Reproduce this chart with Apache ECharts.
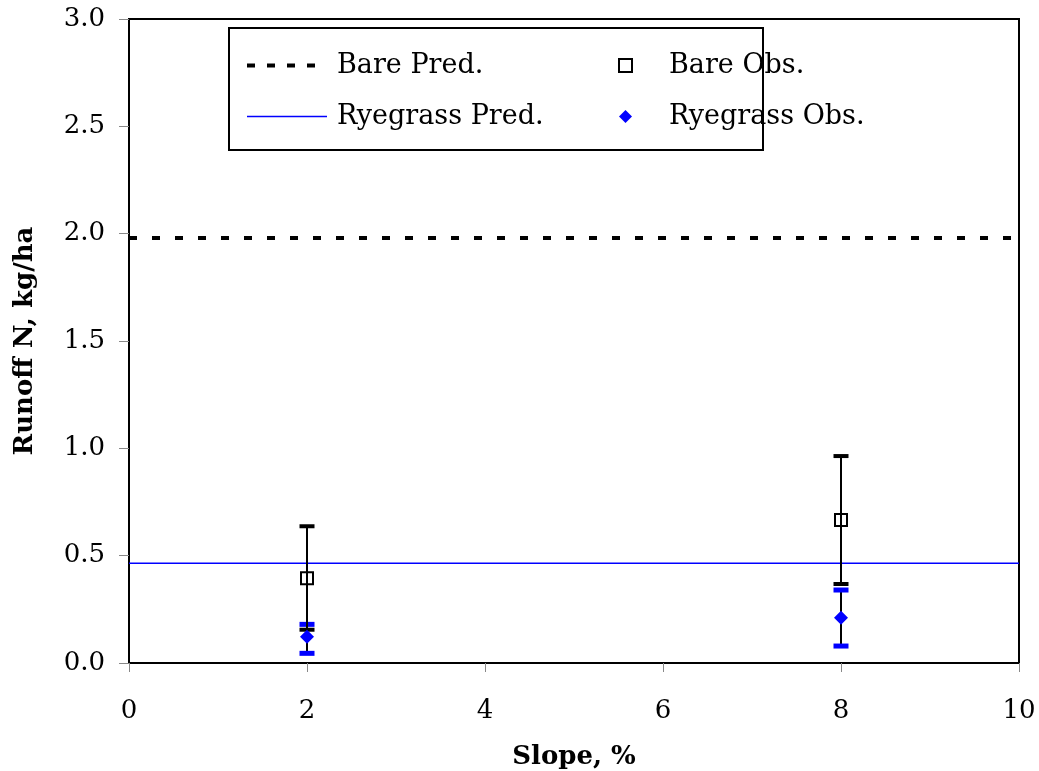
<!DOCTYPE html>
<html>
<head>
<meta charset="utf-8">
<script src="https://cdn.jsdelivr.net/npm/echarts@6/dist/echarts.min.js"></script>
<style>
  html, body { margin: 0; padding: 0; background: #fff; }
  #chart { width: 1039px; height: 771px; }
</style>
</head>
<body>
<div id="chart"></div>
<script>
// Slope (%) of each plot pair
const slopes = [2, 8];

// Observed runoff N (kg/ha) with the ends of its error bar
const bareObs = [0.395, 0.666];
const bareLow = [0.155, 0.368];
const bareHigh = [0.637, 0.964];

const ryeObs = [0.122, 0.211];
const ryeLow = [0.045, 0.079];
const ryeHigh = [0.180, 0.340];

// Model predictions (constant over slope)
const barePred = 1.98;
const ryePred = 0.465;
const xRange = [0, 10];

const FONT = 'DejaVu Serif';

function errorBars(stemColor, capColor, capH) {
  return function (params, api) {
    const x = api.value(0);
    const lo = api.coord([x, api.value(1)]);
    const hi = api.coord([x, api.value(2)]);
    const capW = 15;
    return {
      type: 'group',
      children: [
        { type: 'line', shape: { x1: lo[0], y1: lo[1], x2: hi[0], y2: hi[1] },
          style: { stroke: stemColor, lineWidth: 2 } },
        { type: 'rect', shape: { x: lo[0] - capW / 2, y: lo[1] - capH / 2, width: capW, height: capH },
          style: { fill: capColor } },
        { type: 'rect', shape: { x: hi[0] - capW / 2, y: hi[1] - capH / 2, width: capW, height: capH },
          style: { fill: capColor } }
      ]
    };
  };
}

const chart = echarts.init(document.getElementById('chart'), null, { renderer: 'canvas' });

const labelStyle = { fontFamily: FONT, fontSize: 26, color: '#000' };

chart.setOption({
  animation: false,
  backgroundColor: '#fff',
  grid: {
    left: 129, top: 19, right: 20, bottom: 108,
    outerBoundsMode: 'none', containLabel: false,
    show: true, borderColor: '#000', borderWidth: 2, backgroundColor: 'transparent'
  },
  graphic: [{
    type: 'rect', z: 1,
    shape: { x: 229, y: 28, width: 534, height: 122 },
    style: { fill: '#fff', stroke: '#000', lineWidth: 2 }
  }],
  legend: [{
    z: 5,
    orient: 'vertical', left: 240, top: 47,
    itemWidth: 80, itemHeight: 14, itemGap: 24,
    data: [
      { name: 'Bare Pred.', lineStyle: { width: 4, type: [8, 12] } },
      { name: 'Ryegrass Pred.', lineStyle: { width: 1.5 } }
    ],
    itemStyle: { opacity: 0 },
    textStyle: { fontFamily: FONT, fontSize: 27, color: '#000', padding: [0, 0, 0, 5] }
  }, {
    z: 5,
    orient: 'vertical', left: 613, top: 47,
    itemWidth: 13, itemHeight: 13, itemGap: 24,
    data: ['Bare Obs.', 'Ryegrass Obs.'],
    textStyle: { fontFamily: FONT, fontSize: 27, color: '#000', padding: [0, 0, 0, 32] }
  }],
  xAxis: {
    type: 'value', min: 0, max: 10, interval: 2,
    name: 'Slope, %', nameLocation: 'middle', nameGap: 81,
    nameTextStyle: { fontFamily: FONT, fontSize: 26, fontWeight: 'bold', color: '#000' },
    axisLine: { lineStyle: { color: '#000', width: 2 } },
    axisTick: { inside: false, length: 9, lineStyle: { color: '#888', width: 1 } },
    axisLabel: Object.assign({ margin: 35 }, labelStyle),
    splitLine: { show: false }
  },
  yAxis: {
    type: 'value', min: 0, max: 3, interval: 0.5,
    name: 'Runoff N, kg/ha', nameLocation: 'middle', nameGap: 91,
    nameTextStyle: { fontFamily: FONT, fontSize: 26, fontWeight: 'bold', color: '#000' },
    axisLine: { lineStyle: { color: '#000', width: 2 } },
    axisTick: { inside: false, length: 10, lineStyle: { color: '#888', width: 1 } },
    axisLabel: Object.assign({ margin: 24, formatter: v => v.toFixed(1) }, labelStyle),
    splitLine: { show: false }
  },
  series: [
    {
      name: 'Bare Pred.', type: 'line', symbol: 'none', z: 2,
      data: xRange.map(x => [x, barePred]),
      lineStyle: { color: '#000', width: 4, type: [8, 15] }
    },
    {
      name: 'Ryegrass Pred.', type: 'line', symbol: 'none', z: 2,
      data: xRange.map(x => [x, ryePred]),
      lineStyle: { color: '#0000ff', width: 1.5, type: 'solid' }
    },
    {
      name: 'Ryegrass Obs. error', type: 'custom', z: 3,
      renderItem: errorBars('#000', '#0000ff', 5),
      data: slopes.map((s, i) => [s, ryeLow[i], ryeHigh[i]])
    },
    {
      name: 'Bare Obs. error', type: 'custom', z: 3,
      renderItem: errorBars('#000', '#000', 4),
      data: slopes.map((s, i) => [s, bareLow[i], bareHigh[i]])
    },
    {
      name: 'Bare Obs.', type: 'scatter', z: 4,
      symbol: 'rect', symbolSize: 12,
      itemStyle: { color: 'rgba(255,255,255,0)', borderColor: '#000', borderWidth: 2, opacity: 1 },
      data: slopes.map((s, i) => [s, bareObs[i]])
    },
    {
      name: 'Ryegrass Obs.', type: 'scatter', z: 4,
      symbol: 'diamond', symbolSize: 14,
      itemStyle: { color: '#0000ff', opacity: 1 },
      data: slopes.map((s, i) => [s, ryeObs[i]])
    }
  ]
});
</script>
</body>
</html>
